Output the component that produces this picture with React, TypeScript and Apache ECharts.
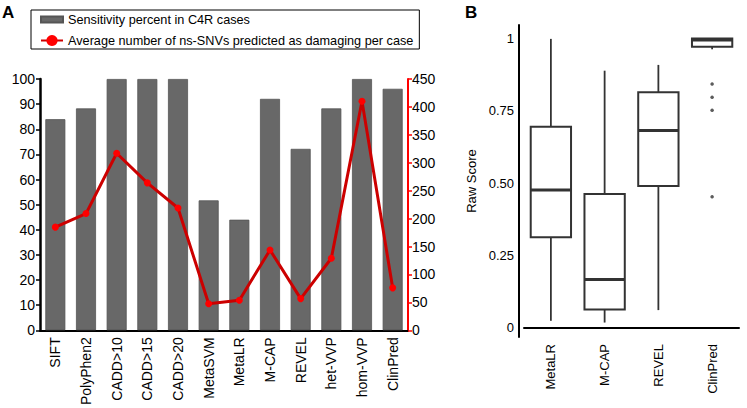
import React, { useEffect, useRef } from "react";
import * as echarts from "echarts";

// Panel A data
const toolsA = ["SIFT", "PolyPhen2", "CADD>10", "CADD>15", "CADD>20", "MetaSVM", "MetaLR", "M-CAP", "REVEL", "het-VVP", "hom-VVP", "ClinPred"];
const sensitivityPct = [84, 88.3, 100, 100, 100, 51.7, 44, 92.1, 72.2, 88.3, 100, 96.1];
const avgDamaging = [184.7, 209, 317, 264, 219, 47.5, 53.8, 143.8, 56.7, 129, 410, 76];
const leftTicks = { min: 0, max: 100, interval: 10 };
const rightTicks = { min: 0, max: 450, interval: 50 };

// Panel B data: [min, Q1, median, Q3, max]
const toolsB = ["MetaLR", "M-CAP", "REVEL", "ClinPred"];
const boxMin = [0.024, 0.018, 0.061, 0.963];
const boxQ1 = [0.313, 0.063, 0.49, 0.972];
const boxMedian = [0.476, 0.167, 0.682, 0.995];
const boxQ3 = [0.695, 0.4625, 0.814, 1.0];
const boxMax = [0.999, 0.889, 0.909, 1.0];
const outlierTool = [3, 3, 3, 3];
const outlierValue = [0.843, 0.797, 0.752, 0.453];
const rawScoreTicks = [0, 0.25, 0.5, 0.75, 1];

const FONT = "'Liberation Sans', Arial, sans-serif";

export default function App() {
  const ref = useRef<HTMLDivElement>(null);
  useEffect(() => {
    if (!ref.current) return;
    const chart = echarts.init(ref.current, null, { renderer: "svg" });
    const boxData = toolsB.map((_, i) => [i, boxMin[i], boxQ1[i], boxMedian[i], boxQ3[i], boxMax[i]]);
    const outliers = outlierTool.map((t, i) => [t, outlierValue[i]]);
    const option: any = {
      animation: false,
      textStyle: { fontFamily: FONT, color: "#000" },
      graphic: [
        { type: "text", left: 2, top: 4, style: { text: "A", font: `bold 17px ${FONT}`, fill: "#000" } },
        { type: "text", left: 465, top: 4, style: { text: "B", font: `bold 17px ${FONT}`, fill: "#000" } },
      ],
      legend: {
        left: 31,
        top: 10,
        orient: "vertical",
        borderColor: "#000",
        borderWidth: 1,
        padding: [3, 6, 2, 9],
        itemGap: 8,
        itemWidth: 22,
        itemHeight: 14,
        textStyle: { fontSize: 12.7, color: "#000", fontFamily: FONT },
        data: [
          { name: "Sensitivity percent in C4R cases", icon: "path://M0,0h22v6h-22z" },
          { name: "Average number of ns-SNVs predicted as damaging per case" },
        ],
      },
      grid: [
        { left: 40, top: 79, width: 368, height: 257 },
        { left: 524, top: 25, width: 215, height: 312 },
      ],
      xAxis: [
        {
          type: "category",
          gridIndex: 0,
          data: toolsA,
          axisLine: { lineStyle: { color: "#000", width: 2 } },
          axisTick: { show: false },
          axisLabel: { rotate: 90, fontSize: 14, color: "#000", margin: 7, fontFamily: FONT },
        },
        {
          type: "category",
          gridIndex: 1,
          data: toolsB,
          axisLine: { lineStyle: { color: "#000", width: 2 } },
          axisTick: { show: false },
          axisLabel: { rotate: 90, fontSize: 13, color: "#000", margin: 7, fontFamily: FONT },
        },
      ],
      yAxis: [
        {
          type: "value",
          gridIndex: 0,
          min: leftTicks.min,
          max: leftTicks.max,
          interval: leftTicks.interval,
          axisLine: { show: true, lineStyle: { color: "#000", width: 2.5 } },
          axisTick: { show: true, length: 4, lineStyle: { color: "#000", width: 1.5 } },
          splitLine: { show: false },
          axisLabel: { fontSize: 14, color: "#000", margin: 5, fontFamily: FONT },
        },
        {
          type: "value",
          gridIndex: 0,
          position: "right",
          min: rightTicks.min,
          max: rightTicks.max,
          interval: rightTicks.interval,
          axisLine: { show: true, lineStyle: { color: "#ff0000", width: 2 } },
          axisTick: { show: true, length: 4, lineStyle: { color: "#ff0000", width: 1.5 } },
          splitLine: { show: false },
          axisLabel: { fontSize: 14, color: "#000", margin: 4, fontFamily: FONT },
        },
        {
          type: "value",
          gridIndex: 1,
          min: -0.032,
          max: 1.047,
          offset: 5,
          name: "Raw Score",
          nameLocation: "middle",
          nameGap: 41,
          nameRotate: 90,
          nameTextStyle: { fontSize: 13, color: "#000", fontFamily: FONT },
          axisLine: { show: true, lineStyle: { color: "#000", width: 2 } },
          axisTick: { show: false },
          splitLine: { show: false },
          axisLabel: {
            customValues: rawScoreTicks,
            fontSize: 13,
            color: "#000",
            margin: 5,
            fontFamily: FONT,
            formatter: (v: number) => (v === 0 ? "0" : v === 1 ? "1" : v.toFixed(2)),
          },
        },
      ],
      series: [
        {
          name: "Sensitivity percent in C4R cases",
          type: "bar",
          xAxisIndex: 0,
          yAxisIndex: 0,
          data: sensitivityPct,
          barWidth: 20,
          itemStyle: { color: "#686868", borderColor: "#555", borderWidth: 0.8 },
        },
        {
          name: "Average number of ns-SNVs predicted as damaging per case",
          type: "line",
          xAxisIndex: 0,
          yAxisIndex: 1,
          data: avgDamaging,
          symbol: "circle",
          symbolSize: 7,
          lineStyle: { color: "#cc0000", width: 3 },
          itemStyle: { color: "#ff0000" },
          z: 5,
        },
        {
          type: "custom",
          xAxisIndex: 1,
          yAxisIndex: 2,
          data: boxData,
          encode: { x: 0, y: [1, 2, 3, 4, 5] },
          renderItem: (params: any, api: any) => {
            const idx = api.value(0);
            const pMin = api.coord([idx, api.value(1)]);
            const pQ1 = api.coord([idx, api.value(2)]);
            const pMed = api.coord([idx, api.value(3)]);
            const pQ3 = api.coord([idx, api.value(4)]);
            const pMax = api.coord([idx, api.value(5)]);
            const w = api.size([1, 0])[0] * 0.75;
            const x = pMed[0];
            const stroke = { stroke: "#333", lineWidth: 1.8, fill: "none" };
            return {
              type: "group",
              children: [
                { type: "line", shape: { x1: x, y1: pMax[1], x2: x, y2: pQ3[1] }, style: stroke },
                { type: "line", shape: { x1: x, y1: pQ1[1], x2: x, y2: pMin[1] }, style: stroke },
                {
                  type: "rect",
                  shape: { x: x - w / 2, y: pQ3[1], width: w, height: pQ1[1] - pQ3[1] },
                  style: { stroke: "#333", lineWidth: 2, fill: "#fff" },
                },
                {
                  type: "line",
                  shape: { x1: x - w / 2, y1: pMed[1], x2: x + w / 2, y2: pMed[1] },
                  style: { stroke: "#333", lineWidth: 3 },
                },
              ],
            };
          },
        },
        {
          type: "scatter",
          xAxisIndex: 1,
          yAxisIndex: 2,
          data: outliers,
          symbolSize: 3.5,
          itemStyle: { color: "#333" },
        },
      ],
    };
    chart.setOption(option);
    return () => chart.dispose();
  }, []);
  return <div ref={ref} style={{ position: "fixed", left: 0, top: 0, width: 747, height: 408, background: "#fff" }} />;
}
